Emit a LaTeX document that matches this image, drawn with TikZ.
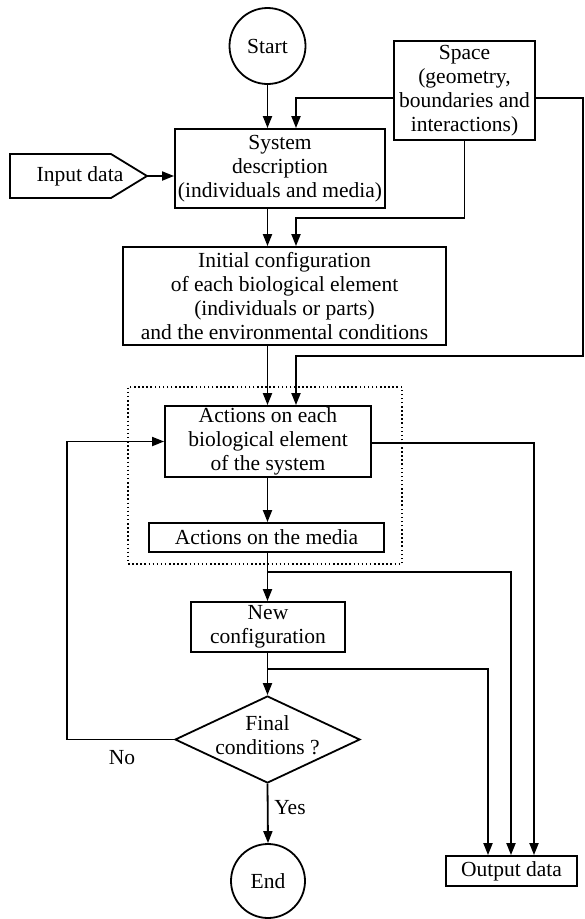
\documentclass[tikz,border=0pt]{standalone}
\usepackage{fontspec}
\setmainfont{Liberation Serif}
\usetikzlibrary{arrows.meta,shapes.geometric}
\begin{document}
\begin{tikzpicture}[x=1pt,y=-1pt,
  every node/.style={font=\fontsize{21.5}{24}\selectfont, inner sep=0pt, align=center},
  box/.style={draw, line width=1.8pt, rectangle},
  round/.style={draw, line width=1.8pt, circle, minimum size=76pt},
  arr/.style={line width=1.8pt, -{Triangle[length=12pt,width=9pt]}},
  plain/.style={line width=1.8pt},
  dotbox/.style={draw, line width=1.5pt, dash pattern=on 1.5pt off 2.6pt, rectangle}]
\useasboundingbox (0,0) rectangle (585,919);

% nodes
\node[round] (start) at (267.5,46) {Start};
\node[box, minimum width=141pt, minimum height=99pt] (space) at (464.5,90.5) {Space\\(geometry,\\boundaries and\\interactions)};
\node[box, minimum width=210pt, minimum height=79pt] (sys) at (280,168.5) {System\\description\\(individuals and media)};
\draw[plain] (10,154) -- (111,154) -- (147,176) -- (111,198) -- (10,198) -- cycle;
\node (intext) at (80,176) {Input data};
\coordinate (intip) at (147,176);
\node[box, minimum width=323pt, minimum height=98pt] (init) at (284.5,296) {Initial configuration\\of each biological element\\(individuals or parts)\\and the environmental conditions};
\node[dotbox, minimum width=274pt, minimum height=177pt] (grp) at (265,475.5) {};
\node[box, minimum width=206pt, minimum height=71pt] (act) at (268,441.5) {Actions on each\\biological element\\of the system};
\node[box, minimum width=235pt, minimum height=29pt] (media) at (266.5,537.5) {Actions on the media};
\node[box, minimum width=154pt, minimum height=50pt] (newc) at (268,627) {New\\configuration};
\node[draw, line width=1.8pt, diamond, minimum width=185pt, minimum height=87pt] (dec) at (267.5,739.5) {};
\node (dectext) at (267.5,735) {Final\\conditions ?};
\node[round, minimum size=74pt] (end) at (268,881) {End};
\node[box, minimum width=131pt, minimum height=30pt] (out) at (511.5,871) {Output data};
\node (no) at (122,758) {No};
\node (yes) at (290,808) {Yes};

% helper coordinates
\coordinate (colB) at (296,0);
\coordinate (b1) at (464.5,218);
\coordinate (b2) at (296,218);
\coordinate (r1) at (583,98);
\coordinate (r2) at (583,356);
\coordinate (j1) at (267.5,572);
\coordinate (j2) at (267.5,669);
\coordinate (o1) at (488,0);
\coordinate (o2) at (511,0);
\coordinate (o3) at (534,0);
\coordinate (n1) at (67,0);

% connectors
\draw[arr] (start.south) -- (start.south |- sys.north);
\draw[arr] ([yshift=-7.5pt]space.west) -| (colB |- sys.north);
\draw[arr] (intip) -- (sys.west |- intip);
\draw[arr] (sys.south -| start) -- (init.north -| start);
\draw[arr] (space.south) -- (b1) -- (b2) -- (colB |- init.north);
\draw[arr] ([yshift=-7.5pt]space.east) -- (r1) -- (r2) -| (colB |- act.north);
\draw[arr] (init.south -| start) -- (act.north -| start);
\draw[arr] (act.south -| start) -- (media.north -| start);
\draw[arr] (media.south -| start) -- (newc.north -| start);
\draw[arr] (j1) -| (out.north -| o2);
\draw[arr] ([yshift=-1.5pt]act.east) -| (out.north -| o3);
\draw[arr] (newc.south -| start) -- (dec.north);
\draw[arr] (j2) -| (out.north -| o1);
\draw[arr] (dec.west) -| (n1 |- act.west) -- (act.west);
\draw[arr] (dec.south) -- (end.north);
\end{tikzpicture}
\end{document}
